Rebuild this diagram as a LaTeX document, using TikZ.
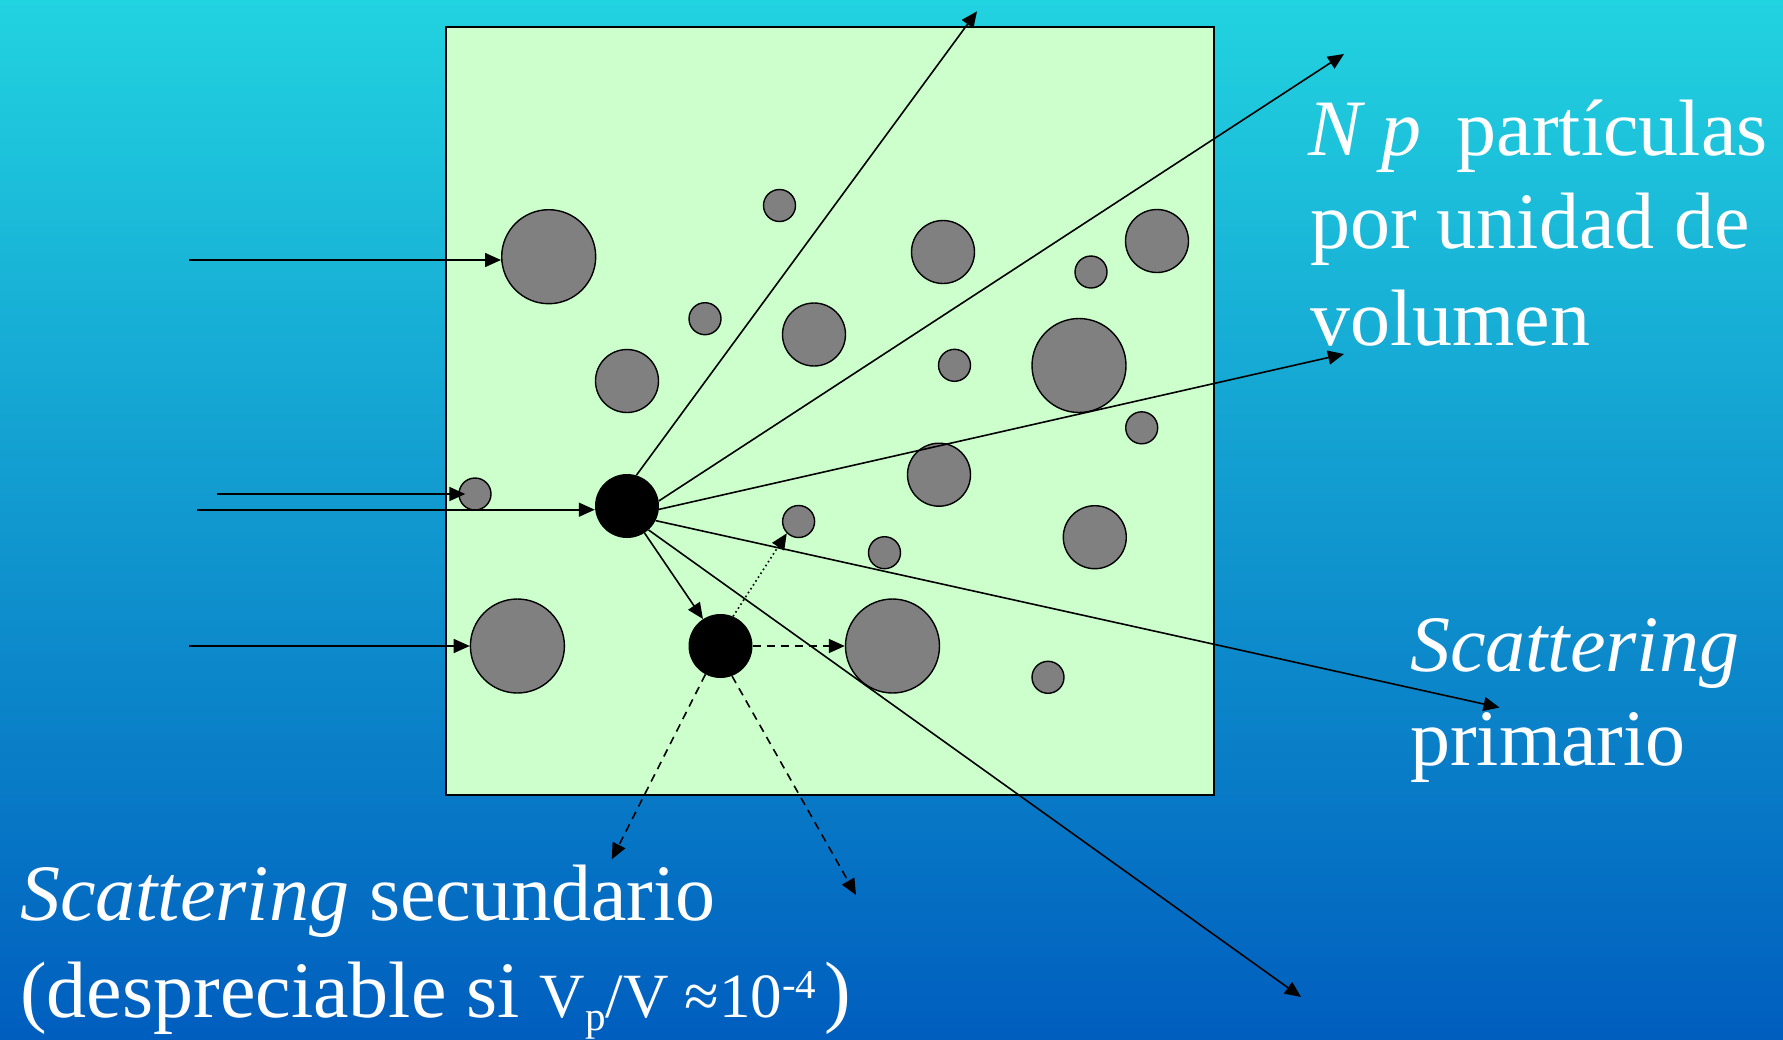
\documentclass[tikz,border=0pt]{standalone}
\usepackage{fontspec}
\setmainfont{Liberation Serif}
\usetikzlibrary{arrows.meta}
\definecolor{bgtop}{RGB}{34,211,224}
\definecolor{bgmid}{RGB}{12,155,228}
\definecolor{bgbot}{RGB}{0,94,190}
\definecolor{boxgreen}{RGB}{204,255,204}
\definecolor{pgray}{RGB}{128,128,128}
\begin{document}
\begin{tikzpicture}[x=1pt,y=-1pt,
  ray/.style={line width=1.6pt, -{Triangle[length=16pt,width=14pt]}},
  sec/.style={ray, dash pattern=on 8pt off 6pt},
  dotline/.style={ray, dash pattern=on 1.6pt off 3pt},
  pbig/.style={circle, draw=black, line width=1.4pt, fill=pgray, minimum size=94pt, inner sep=0pt},
  pmid/.style={pbig, minimum size=63pt},
  psmall/.style={pbig, minimum size=32pt},
  hit/.style={circle, fill=black, minimum size=64pt, inner sep=0pt},
  lbl/.style={text=white, inner sep=0pt, anchor=base west, font=\fontsize{80}{95}\selectfont}
]
\useasboundingbox (0,0) rectangle (1783,1039);
\shade[top color=bgtop, middle color=bgmid, bottom color=bgbot] (0,0) rectangle (1783,1039);

\node[draw=black, line width=2pt, fill=boxgreen, minimum width=768pt, minimum height=768pt, inner sep=0pt] (box) at (830,411) {};

% particles
\node[pbig]   (c1)  at (548.7,256.7) {};
\node[psmall] (c2)  at (779.5,205.5) {};
\node[pmid]   (c3)  at (943,252) {};
\node[pmid]   (c4)  at (1157,241) {};
\node[psmall] (c5)  at (1091,272) {};
\node[psmall] (c6)  at (705,318.7) {};
\node[pmid]   (c7)  at (814,334.5) {};
\node[pmid]   (c8)  at (627,381) {};
\node[psmall] (c9)  at (954.5,365.3) {};
\node[pbig]   (c10) at (1079,365.5) {};
\node[psmall] (c11) at (1141.7,427.8) {};
\node[pmid]   (c12) at (939,474.7) {};
\node[psmall] (c13) at (475,494) {};
\node[psmall] (c14) at (798.6,521.5) {};
\node[psmall] (c15) at (884.5,552.7) {};
\node[pmid]   (c16) at (1094.8,537.2) {};
\node[pbig]   (c17) at (517.4,646) {};
\node[pbig]   (c18) at (892.5,646) {};
\node[psmall] (c19) at (1048,677.3) {};
\node[hit] (b1) at (627,506) {};
\node[hit] (b2) at (720.5,646) {};

% free ends
\coordinate (s1) at (189,260);
\coordinate (s2) at (216.7,494);
\coordinate (s3) at (197,509.7);
\coordinate (s4) at (189,646);
\coordinate (t1) at (977,11.3);
\coordinate (t2) at (1344,54);
\coordinate (t3) at (1344,354);
\coordinate (t4) at (1499.5,707.5);
\coordinate (t5) at (1301,997);
\coordinate (t6) at (611.8,859.3);
\coordinate (t7) at (856,895);

% incoming
\draw[ray] (s1) -- (s1 -| c1.west);
\draw[ray] (s2) -- ([xshift=7pt]c13.west);
\draw[ray] (s3) -- (s3 -| b1.west);
\draw[ray] (s4) -- (s4 -| c17.west);

% primary scattering
\draw[ray] (b1.73) -- (t1);
\draw[ray] (b1.9) -- (t2);
\draw[ray] (b1.-6) -- (t3);
\draw[ray] (b1.-27) -- (t4);
\draw[ray] (b1.-48) -- (t5);
\draw[ray] (b1.-57) -- (b2.123);

% secondary scattering
\draw[dotline] (b2.67) -- (c14.-135);
\draw[sec] (b2.east) -- (c18.west);
\draw[sec] (b2.-118) -- (t6);
\draw[sec] (b2.-69) -- (t7);

% texts
\node[lbl] (np1) at (1308,155) {\textit{N p}\hspace{0.44em}partículas};
\node[lbl] (np2) at (1310,248.5) {por unidad de};
\node[lbl] (np3) at (1310,345) {volumen};
\node[lbl] (sp1) at (1410,671) {\textit{Scattering}};
\node[lbl] (sp2) at (1410,765) {primario};
\node[lbl] (ss1) at (20,920) {\textit{Scattering} secundario};
\node[lbl] (ss2) at (20,1017) {(despreciable si {\fontsize{63}{63}\selectfont V\raisebox{-13pt}{\fontsize{41}{41}\selectfont p}/V ≈10\raisebox{19pt}{\fontsize{41}{41}\selectfont -4}}\hspace{8pt})};
\end{tikzpicture}
\end{document}
